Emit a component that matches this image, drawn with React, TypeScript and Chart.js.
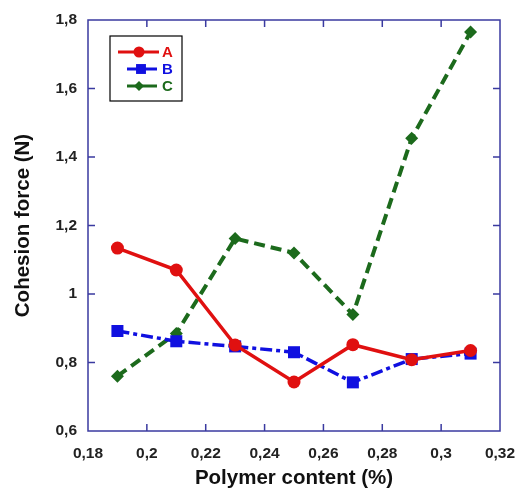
import React, { useEffect, useRef } from "react";
import { Chart, registerables } from "chart.js";

Chart.register(...registerables);

const xValues = [0.19, 0.21, 0.23, 0.25, 0.27, 0.29, 0.31];
const seriesA = [1.134, 1.07, 0.851, 0.743, 0.852, 0.808, 0.835];
const seriesB = [0.892, 0.862, 0.847, 0.83, 0.742, 0.81, 0.826];
const seriesC = [0.76, 0.885, 1.162, 1.12, 0.94, 1.455, 1.765];
const seriesNames = ["A", "B", "C"];
const xTickValues = [0.18, 0.2, 0.22, 0.24, 0.26, 0.28, 0.3, 0.32];
const yTickValues = [0.6, 0.8, 1, 1.2, 1.4, 1.6, 1.8];
const xTitle = "Polymer content (%)";
const yTitle = "Cohesion force (N)";

const RED = "#e01010";
const BLUE = "#1010e0";
const GREEN = "#1c6a1c";
const AXIS = "#3a3aa0";
const FONT = "'Liberation Sans', Arial, sans-serif";

const fmt = (v: number) => String(Number(v.toFixed(2))).replace(".", ",");

const framePlugin = {
  id: "frame",
  afterDatasetsDraw(chart: any) {
    const { ctx, chartArea: a, scales } = chart;
    const xs = scales.x;
    const ys = scales.y;
    ctx.save();
    ctx.strokeStyle = AXIS;
    ctx.lineWidth = 1.5;
    ctx.strokeRect(a.left, a.top, a.right - a.left, a.bottom - a.top);
    const tl = 7;
    ctx.beginPath();
    xs.ticks.forEach((t: any) => {
      const px = xs.getPixelForValue(t.value);
      if (px <= a.left + 1 || px >= a.right - 1) return;
      ctx.moveTo(px, a.bottom);
      ctx.lineTo(px, a.bottom - tl);
      ctx.moveTo(px, a.top);
      ctx.lineTo(px, a.top + tl);
    });
    ys.ticks.forEach((t: any) => {
      const py = ys.getPixelForValue(t.value);
      if (py <= a.top + 1 || py >= a.bottom - 1) return;
      ctx.moveTo(a.left, py);
      ctx.lineTo(a.left + tl, py);
      ctx.moveTo(a.right, py);
      ctx.lineTo(a.right - tl, py);
    });
    ctx.stroke();

    // legend
    const bx = 110, by = 36, bw = 72, bh = 65;
    ctx.fillStyle = "#fff";
    ctx.fillRect(bx, by, bw, bh);
    ctx.strokeStyle = "#000";
    ctx.lineWidth = 1.2;
    ctx.strokeRect(bx, by, bw, bh);
    const rows = [
      { y: 52, x0: 118, x1: 159, mx: 139, color: RED, style: "circle", r: 5.5, lw: 3 },
      { y: 69, x0: 127, x1: 157, mx: 141, color: BLUE, style: "rect", r: 7, lw: 3 },
      { y: 86, x0: 127, x1: 157, mx: 139, color: GREEN, style: "rectRot", r: 5, lw: 3 },
    ];
    chart.data.datasets.forEach((ds: any, i: number) => {
      const r = rows[i];
      ctx.strokeStyle = r.color;
      ctx.lineWidth = r.lw;
      ctx.beginPath();
      ctx.moveTo(r.x0, r.y);
      ctx.lineTo(r.x1, r.y);
      ctx.stroke();
      ctx.fillStyle = r.color;
      ctx.beginPath();
      if (r.style === "circle") {
        ctx.arc(r.mx, r.y, r.r, 0, Math.PI * 2);
      } else if (r.style === "rect") {
        const s = r.r * Math.SQRT1_2;
        ctx.rect(r.mx - s, r.y - s, 2 * s, 2 * s);
      } else {
        ctx.moveTo(r.mx, r.y - r.r);
        ctx.lineTo(r.mx + r.r, r.y);
        ctx.lineTo(r.mx, r.y + r.r);
        ctx.lineTo(r.mx - r.r, r.y);
        ctx.closePath();
      }
      ctx.fill();
      ctx.font = `bold 15px ${FONT}`;
      ctx.textAlign = "left";
      ctx.textBaseline = "middle";
      ctx.fillText(ds.label, 162, r.y + 1);
    });
    ctx.restore();
  },
};

export default function App() {
  const ref = useRef<HTMLCanvasElement | null>(null);
  useEffect(() => {
    document.body.style.margin = "0";
    const toPts = (ys: number[]) => xValues.map((x, i) => ({ x, y: ys[i] }));
    const chart = new Chart(ref.current as HTMLCanvasElement, {
      type: "line",
      data: {
        datasets: [
          {
            label: seriesNames[0],
            data: toPts(seriesA),
            borderColor: RED,
            backgroundColor: RED,
            borderWidth: 3.5,
            pointStyle: "circle",
            pointRadius: 6.5,
            pointBorderWidth: 0,
          },
          {
            label: seriesNames[1],
            data: toPts(seriesB),
            borderColor: BLUE,
            backgroundColor: BLUE,
            borderWidth: 3.5,
            borderDash: [12, 4, 4, 4],
            pointStyle: "rect",
            pointRadius: 8.5,
            pointBorderWidth: 0,
          },
          {
            label: seriesNames[2],
            data: toPts(seriesC),
            borderColor: GREEN,
            backgroundColor: GREEN,
            borderWidth: 4,
            borderDash: [11, 6],
            pointStyle: "rectRot",
            pointRadius: 6.5,
            pointBorderWidth: 0,
          },
        ],
      },
      options: {
        animation: false,
        responsive: false,
        layout: { padding: { left: 0, top: 20, right: 15, bottom: 0 } },
        plugins: { legend: { display: false }, tooltip: { enabled: false } },
        scales: {
          x: {
            type: "linear",
            min: 0.18,
            max: 0.32,
            afterBuildTicks: (s: any) => {
              s.ticks = xTickValues.map((v) => ({ value: v }));
            },
            afterFit: (s: any) => {
              s.height = 60;
              s.paddingLeft = 0;
              s.paddingRight = 0;
            },
            grid: { display: false, drawTicks: false },
            border: { display: false },
            ticks: {
              padding: 13,
              color: "#222",
              font: { family: FONT, size: 15.5, weight: "bold" },
              maxRotation: 0,
              callback: (v: any) => fmt(Number(v)),
            },
            title: {
              display: true,
              text: xTitle,
              color: "#111",
              font: { family: FONT, size: 20.5, weight: "bold" },
              padding: { top: 4, bottom: 0 },
            },
          },
          y: {
            type: "linear",
            min: 0.6,
            max: 1.8,
            afterBuildTicks: (s: any) => {
              s.ticks = yTickValues.map((v) => ({ value: v }));
            },
            afterFit: (s: any) => {
              s.width = 88;
              s.paddingTop = 0;
              s.paddingBottom = 0;
            },
            grid: { display: false, drawTicks: false },
            border: { display: false },
            ticks: {
              padding: 11,
              color: "#222",
              font: { family: FONT, size: 15.5, weight: "bold" },
              callback: (v: any) => fmt(Number(v)),
            },
            title: {
              display: true,
              text: yTitle,
              color: "#111",
              font: { family: FONT, size: 20.5, weight: "bold" },
              padding: { top: 11, bottom: 0 },
            },
          },
        },
      },
      plugins: [framePlugin],
    } as any);
    return () => chart.destroy();
  }, []);
  return (
    <div style={{ position: "absolute", left: 0, top: 0, width: 515, height: 491, background: "#fff" }}>
      <canvas ref={ref} width={515} height={491} style={{ width: 515, height: 491, display: "block" }} />
    </div>
  );
}
